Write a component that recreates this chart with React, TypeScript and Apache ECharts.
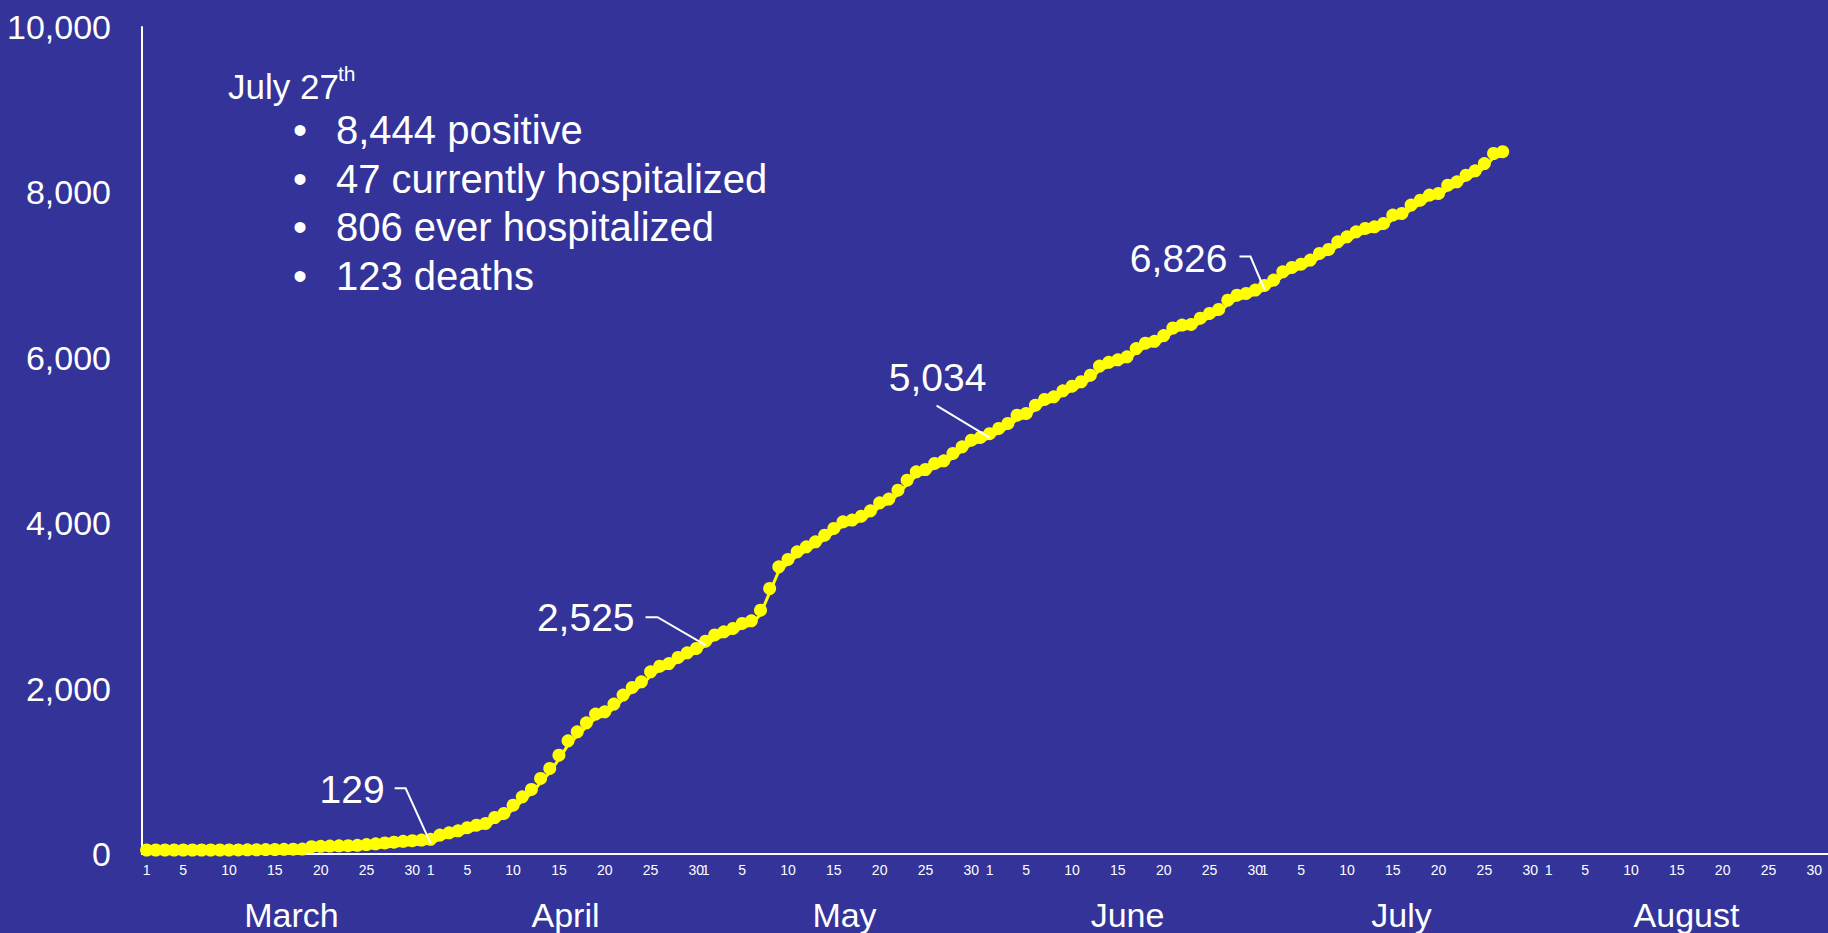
import React, { useEffect, useRef } from "react";
import * as echarts from "echarts";

// ---- data ----
const months = ["March", "April", "May", "June", "July", "August"];
const monthLengths = [31, 30, 31, 30, 31, 31];
const dayTickLabels = [1, 5, 10, 15, 20, 25, 30];
const yMin = 0;
const yMax = 10000;
const yInterval = 2000;

// cumulative positive cases, March 1 .. July 27
const positives = [
  0, 0, 0, 0, 0, 0, 0, 0, 0, 0,
  1, 2, 3, 5, 6, 8, 10, 12,
  40, 45, 48, 50, 52, 56, 65, 75, 85, 95, 105, 112, 120, 129,
  180, 208, 232, 270, 300, 321, 393, 442, 542, 643, 732, 865, 986, 1147, 1320, 1429, 1538, 1643, 1671, 1764, 1873, 1965, 2034, 2155, 2223, 2255, 2328, 2385, 2437, 2525,
  2600, 2638, 2679, 2739, 2771, 2900, 3162, 3424, 3513, 3606, 3666, 3727, 3807, 3888, 3968, 3989, 4037, 4102, 4198, 4243, 4351, 4472, 4573, 4601, 4674, 4706, 4795, 4875, 4956, 4988, 5034,
  5097, 5158, 5258, 5279, 5379, 5448, 5480, 5553, 5609, 5662, 5742, 5851, 5897, 5927, 5964, 6064, 6129, 6151, 6220, 6312, 6347, 6355, 6430, 6488, 6536, 6649, 6709, 6730, 6770, 6826,
  6891, 6991, 7044, 7084, 7133, 7213, 7262, 7354, 7415, 7475, 7516, 7536, 7576, 7677, 7697, 7798, 7858, 7919, 7939, 8039, 8080, 8160, 8213, 8301, 8422, 8444,
];

const annotatedIndices = [31, 61, 92, 122];
const annotatedTexts = ["129", "2,525", "5,034", "6,826"];

const headline = "July 27";
const headlineSup = "th";
const bullets = ["8,444 positive", "47 currently hospitalized", "806 ever hospitalized", "123 deaths"];

// ---- layout (pixel offsets of annotation labels relative to their point) ----
const annotationLayout = [
  { textX: -46, textY: -54, align: "right", leader: [[-36, -55], [-25, -55], [0, 0]] },
  { textX: -71, textY: -28, align: "right", leader: [[-60, -28], [-48, -28], [0, 0]] },
  { textX: -52, textY: -60, align: "center", leader: [[-53, -32], [0, 0]] },
  { textX: -37, textY: -31, align: "right", leader: [[-25, -33], [-14, -33], [0, 0]] },
];
const monthLabelShift = [18, 4, 0, 4, -10, -2];

const FONT = "'Liberation Sans', Arial, Helvetica, sans-serif";
const NARROW = "'Liberation Sans Narrow', 'Arial Narrow', 'Liberation Sans', Arial, sans-serif";
const BG = "#333399";
const YELLOW = "#FFFF00";

const categories: string[] = [];
months.forEach((m, mi) => {
  for (let d = 1; d <= monthLengths[mi]; d++) categories.push(m + "-" + d);
});

const monthRich: Record<string, any> = {};
monthLabelShift.forEach((s, i) => {
  monthRich["m" + i] = {
    color: "#FFFFFF",
    fontSize: 34,
    fontFamily: FONT,
    padding: s >= 0 ? [0, 0, 0, s] : [0, -s, 0, 0],
  };
});

export default function App() {
  const ref = useRef<HTMLDivElement>(null);

  useEffect(() => {
    if (!ref.current) return;
    const chart = echarts.init(ref.current, undefined, { renderer: "svg" });
    chart.setOption({
      animation: false,
      backgroundColor: BG,
      grid: { left: 142, right: -7, top: 27, bottom: 79 },
      xAxis: [
        {
          type: "category",
          data: categories,
          boundaryGap: true,
          axisLine: { show: true, lineStyle: { color: "#FFFFFF", width: 2 } },
          axisTick: { show: false },
          splitLine: { show: false },
          axisLabel: {
            color: "#FFFFFF",
            fontSize: 14,
            fontFamily: NARROW,
            margin: 9,
            hideOverlap: false,
            interval: (index: number, value: string) => {
              const d = parseInt(String(value).split("-")[1], 10);
              return dayTickLabels.indexOf(d) >= 0;
            },
            formatter: (value: string) => String(value).split("-")[1],
          },
        },
        {
          type: "category",
          data: months,
          position: "bottom",
          boundaryGap: true,
          axisLine: { show: false },
          axisTick: { show: false },
          splitLine: { show: false },
          axisLabel: {
            color: "#FFFFFF",
            fontSize: 34,
            fontFamily: FONT,
            margin: 44,
            formatter: (value: string, index: number) => "{m" + index + "|" + value + "}",
            rich: monthRich,
          },
        },
      ],
      yAxis: {
        type: "value",
        min: yMin,
        max: yMax,
        interval: yInterval,
        axisLine: { show: true, lineStyle: { color: "#FFFFFF", width: 2 } },
        axisTick: { show: false },
        splitLine: { show: false },
        axisLabel: {
          color: "#FFFFFF",
          fontSize: 34,
          fontFamily: FONT,
          margin: 31,
          formatter: (v: number) => v.toLocaleString("en-US"),
        },
      },
      series: [
        {
          type: "line",
          xAxisIndex: 0,
          yAxisIndex: 0,
          data: positives,
          symbol: "circle",
          symbolSize: 13,
          symbolOffset: [0, -4],
          showAllSymbol: true,
          lineStyle: { color: YELLOW, width: 3 },
          itemStyle: { color: YELLOW },
          z: 3,
        },
      ],
    });

    const graphics: any[] = [];
    annotatedIndices.forEach((idx, k) => {
      const p = chart.convertToPixel({ xAxisIndex: 0, yAxisIndex: 0 }, [idx, positives[idx]]) as number[];
      const lay = annotationLayout[k];
      graphics.push({
        type: "polyline",
        z: 10,
        shape: { points: lay.leader.map((o) => [p[0] + o[0], p[1] + o[1]]) },
        style: { stroke: "#FFFFFF", lineWidth: 2, fill: null },
      });
      graphics.push({
        type: "text",
        z: 10,
        x: p[0] + lay.textX,
        y: p[1] + lay.textY,
        style: {
          text: annotatedTexts[k],
          fill: "#FFFFFF",
          fontSize: 39,
          fontFamily: FONT,
          textAlign: lay.align,
          textVerticalAlign: "middle",
        },
      });
    });

    graphics.push({
      type: "text",
      x: 228,
      y: 86,
      style: { text: headline, fill: "#FFFFFF", fontSize: 35, fontFamily: FONT, textAlign: "left", textVerticalAlign: "middle" },
    });
    graphics.push({
      type: "text",
      x: 338,
      y: 73,
      style: { text: headlineSup, fill: "#FFFFFF", fontSize: 21, fontFamily: FONT, textAlign: "left", textVerticalAlign: "middle" },
    });
    const rowY = [130, 179, 227, 276];
    bullets.forEach((b, i) => {
      graphics.push({
        type: "text",
        x: 300,
        y: rowY[i],
        style: { text: "•", fill: "#FFFFFF", fontSize: 40, fontFamily: FONT, textAlign: "center", textVerticalAlign: "middle" },
      });
      graphics.push({
        type: "text",
        x: 336,
        y: rowY[i],
        style: { text: b, fill: "#FFFFFF", fontSize: 40, fontFamily: FONT, textAlign: "left", textVerticalAlign: "middle" },
      });
    });

    chart.setOption({ graphic: graphics });

    return () => {
      chart.dispose();
    };
  }, []);

  return (
    <div
      ref={ref}
      style={{ position: "absolute", left: 0, top: 0, width: 1828, height: 933, overflow: "hidden" }}
    />
  );
}
